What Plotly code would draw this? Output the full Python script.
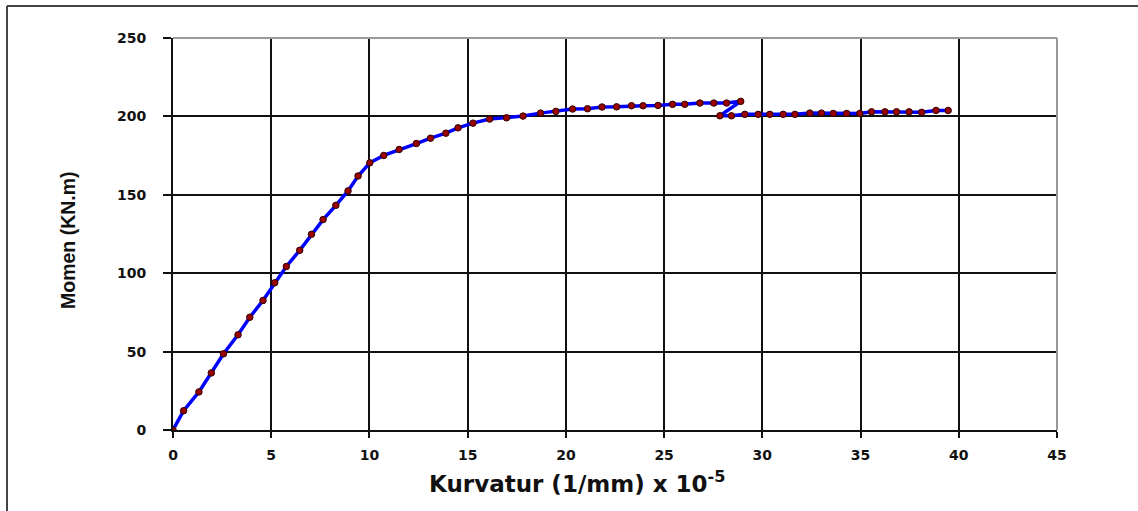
import plotly.graph_objects as go

# Curvature (x 1e-5 1/mm) and moment (kN.m)
kurvatur = [0, 0.54, 1.32, 1.95, 2.57, 3.31, 3.91, 4.58, 5.18, 5.77, 6.45, 7.05, 7.64,
            8.29, 8.91, 9.42, 10.02, 10.73, 11.51, 12.39, 13.11, 13.89, 14.51, 15.27,
            16.12, 16.98, 17.82, 18.71, 19.49, 20.34, 21.10, 21.84, 22.58, 23.34, 23.93,
            24.69, 25.43, 26.05, 26.82, 27.53, 28.18, 28.90, 27.84, 28.43, 29.11, 29.79,
            30.38, 31.06, 31.66, 32.42, 33.01, 33.61, 34.29, 34.96, 35.56, 36.24, 36.83,
            37.47, 38.11, 38.84, 39.46]
momen = [0, 12.3, 24.3, 36.4, 48.6, 60.7, 71.9, 82.6, 93.9, 104.3, 114.6, 124.8, 134.2,
         143.3, 152.5, 162.0, 170.4, 175.1, 178.9, 182.7, 186.1, 189.3, 192.7, 195.7,
         198.3, 199.1, 200.2, 202.1, 203.2, 204.7, 204.9, 206.0, 206.1, 206.8, 206.8,
         207.0, 207.7, 207.7, 208.5, 208.5, 208.5, 209.6, 200.4, 200.4, 201.3, 201.3,
         201.3, 201.3, 201.3, 202.1, 202.1, 201.9, 201.9, 201.9, 202.9, 202.9, 202.9,
         202.9, 202.6, 203.8, 203.8]

x_ticks = [0, 5, 10, 15, 20, 25, 30, 35, 40, 45]
y_ticks = [0, 50, 100, 150, 200, 250]

W, H = 1138, 511
L, R, T, B = 173, 81, 38, 81
PW, PH = W - L - R, H - T - B


def px(p):
    return (p - L) / PW


def py(p):
    return (H - B - p) / PH


fig = go.Figure()
fig.add_trace(go.Scatter(
    x=kurvatur, y=momen, mode="lines+markers",
    line=dict(color="#0000FF", width=3.5),
    marker=dict(color="#990000", size=6.5, line=dict(color="#330000", width=1)),
    showlegend=False,
))

tick_font = dict(family="DejaVu Sans", size=14, color="#111111", weight="bold")

fig.update_xaxes(
    range=[0, 45], tickvals=x_ticks, ticktext=[str(v) for v in x_ticks],
    showgrid=True, gridcolor="#111111", gridwidth=2,
    showline=True, linecolor="#111111", linewidth=2,
    ticks="outside", ticklen=6, tickwidth=2, tickcolor="#111111",
    zeroline=False, tickfont=tick_font, ticklabelstandoff=5,
)
fig.update_yaxes(
    range=[0, 250], tickvals=y_ticks, ticktext=[str(v) for v in y_ticks],
    showgrid=True, gridcolor="#111111", gridwidth=1.5,
    showline=True, linecolor="#111111", linewidth=2,
    ticks="outside", ticklen=8, tickwidth=2, tickcolor="#111111",
    zeroline=False, tickfont=tick_font, ticklabelstandoff=14,
)

shapes = [
    # gray top and right plot borders (cover the edge gridlines)
    dict(type="line", xref="paper", yref="paper", x0=0, x1=1, y0=1, y1=1,
         line=dict(color="#9a9a9a", width=2), layer="above"),
    dict(type="line", xref="paper", yref="paper", x0=1, x1=1, y0=0, y1=1,
         line=dict(color="#9a9a9a", width=2), layer="above"),
    # outer chart frame (top and left)
    dict(type="line", xref="paper", yref="paper", x0=px(7), x1=px(W + 5), y0=py(6), y1=py(6),
         line=dict(color="#444444", width=2)),
    dict(type="line", xref="paper", yref="paper", x0=px(7), x1=px(7), y0=py(6), y1=py(H + 5),
         line=dict(color="#444444", width=2)),
]

annotations = [
    dict(text="Kurvatur (1/mm) x 10<sup>-5</sup>", xref="paper", yref="paper",
         x=px(577), y=py(482), xanchor="center", yanchor="middle", showarrow=False,
         font=dict(family="DejaVu Sans", size=23, color="#111111", weight="bold")),
    dict(text="Momen (KN.m)", xref="paper", yref="paper", textangle=-90,
         x=px(68), y=py(240), xanchor="center", yanchor="middle", showarrow=False,
         font=dict(family="Liberation Sans Narrow, Liberation Sans", size=19.5,
                   color="#111111", weight="bold")),
]

fig.update_layout(
    width=W, height=H, margin=dict(l=L, r=R, t=T, b=B, pad=0),
    paper_bgcolor="white", plot_bgcolor="white",
    shapes=shapes, annotations=annotations,
)

fig.write_html("out.html")
